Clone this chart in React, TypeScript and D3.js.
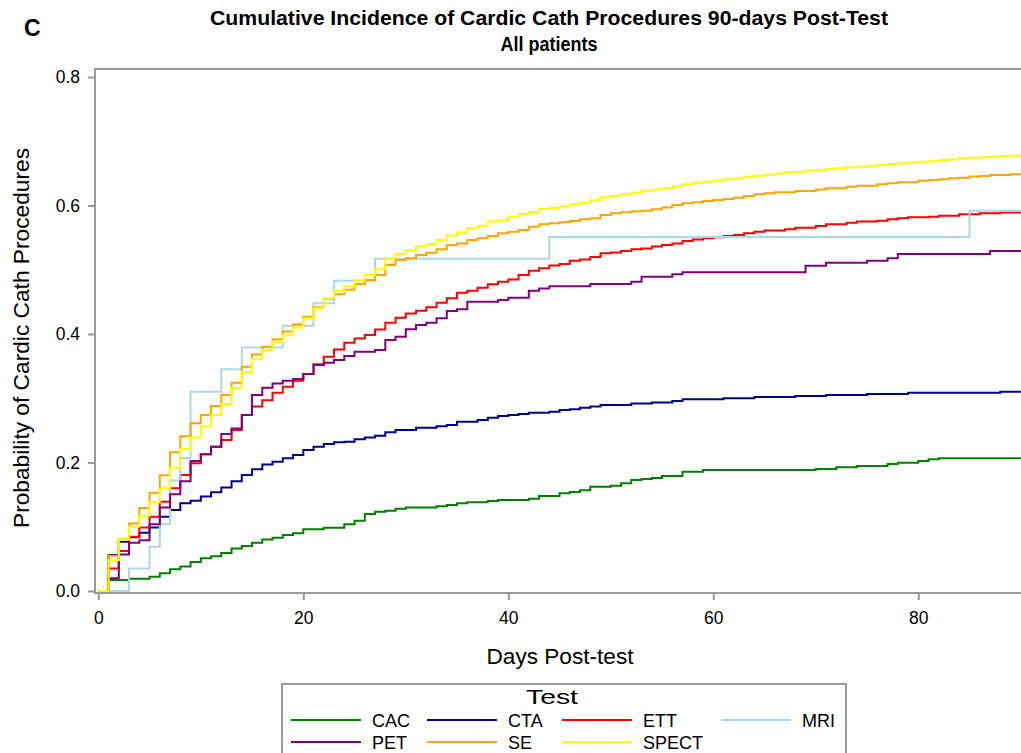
import React, { useEffect, useRef } from 'react';
import * as d3 from 'd3';

// tests in legend order + SAS-ish colours
const tests = ['CAC', 'CTA', 'ETT', 'MRI', 'PET', 'SE', 'SPECT'];
const colors = ['#008000', '#00008b', '#ff0000', '#add8e6', '#800080', '#ffa500', '#ffff00'];

// [day, cumulative incidence] step points
const cacPts = [[0,0],[1,0.017],[3,0.019],[5,0.022],[6,0.0275],[7,0.034],[8,0.038],[9,0.045],[10,0.051],[11,0.054],[12,0.059],[13,0.066],[14,0.070],[15,0.075],[16,0.080],[17,0.083],[18,0.087],[19,0.090],[20,0.096],[22,0.0985],[24,0.104],[25,0.1095],[26,0.120],[27,0.1235],[28,0.125],[29,0.128],[30,0.130],[33,0.132],[34,0.134],[35,0.1365],[36,0.138],[38,0.140],[39,0.1416],[42,0.1435],[43,0.1479],[45,0.152],[46,0.154],[47,0.157],[48,0.1624],[50,0.164],[51,0.1676],[52,0.1728],[53,0.1745],[54,0.176],[55,0.179],[57,0.1857],[59,0.1883],[70,0.190],[72,0.1925],[74,0.1946],[77,0.1977],[78,0.1997],[80,0.2025],[81,0.205],[82,0.2065]];
const ctaPts = [[0,0],[1,0.056],[2,0.0768],[3,0.0835],[4,0.0908],[5,0.099],[6,0.1157],[7,0.126],[8,0.1365],[9,0.1406],[10,0.147],[11,0.1536],[12,0.161],[13,0.171],[14,0.1805],[15,0.1894],[16,0.197],[17,0.2013],[18,0.2065],[19,0.2117],[20,0.2195],[21,0.2246],[22,0.2288],[23,0.2314],[24,0.2324],[25,0.236],[26,0.239],[27,0.2418],[28,0.247],[29,0.2506],[31,0.2542],[33,0.2563],[34,0.2584],[35,0.2636],[37,0.266],[38,0.2698],[39,0.2724],[40,0.274],[41,0.2755],[42,0.2775],[44,0.279],[45,0.2817],[46,0.283],[47,0.2853],[48,0.287],[49,0.2895],[52,0.292],[54,0.2935],[56,0.2957],[57,0.2983],[61,0.2999],[64,0.302],[68,0.3035],[71,0.305],[75,0.3066],[79,0.3087],[88,0.310]];
const ettPts = [[0,0],[1,0.035],[2,0.0623],[3,0.0846],[4,0.099],[5,0.1157],[6,0.139],[7,0.160],[8,0.1805],[9,0.199],[10,0.213],[11,0.2246],[12,0.235],[13,0.2506],[14,0.274],[15,0.287],[16,0.297],[17,0.3087],[18,0.318],[19,0.3274],[20,0.3377],[21,0.353],[22,0.3647],[23,0.376],[24,0.3865],[25,0.393],[26,0.3985],[27,0.407],[28,0.4176],[29,0.4254],[30,0.432],[31,0.4363],[32,0.4415],[33,0.4487],[34,0.4555],[35,0.4643],[36,0.4674],[37,0.472],[38,0.4773],[39,0.4815],[40,0.485],[41,0.4918],[42,0.4986],[43,0.5022],[44,0.5065],[45,0.509],[46,0.514],[47,0.516],[48,0.520],[49,0.5256],[50,0.527],[51,0.529],[52,0.532],[53,0.533],[54,0.536],[55,0.5385],[56,0.541],[57,0.5447],[58,0.547],[59,0.549],[60,0.5505],[61,0.5525],[62,0.554],[63,0.5567],[64,0.5593],[65,0.561],[67,0.563],[68,0.5655],[70,0.568],[71,0.5707],[73,0.5733],[74,0.575],[76,0.5764],[77,0.5785],[78,0.580],[79,0.5816],[81,0.5826],[82,0.584],[84,0.5863],[86,0.5878],[88,0.589]];
const mriPts = [[0,0],[3,0.035],[5,0.069],[6,0.104],[7,0.172],[8,0.207],[9,0.310],[12,0.345],[14,0.379],[18,0.413],[21,0.448],[23,0.483],[27,0.517],[44,0.551],[85,0.592]];
const petPts = [[0,0],[1,0.0197],[2,0.057],[3,0.075],[4,0.079],[5,0.104],[6,0.130],[7,0.1505],[8,0.171],[9,0.2023],[10,0.213],[11,0.2246],[12,0.2443],[13,0.253],[14,0.274],[15,0.305],[16,0.3165],[17,0.323],[18,0.3274],[19,0.330],[20,0.3377],[21,0.3517],[22,0.3554],[23,0.3595],[24,0.3658],[25,0.3725],[27,0.375],[28,0.3907],[29,0.3958],[30,0.4073],[31,0.414],[32,0.4176],[33,0.4244],[34,0.4358],[35,0.4384],[36,0.4503],[39,0.4529],[40,0.4565],[42,0.4674],[43,0.471],[44,0.4745],[48,0.4778],[52,0.4815],[53,0.4892],[56,0.4929],[57,0.496],[69,0.5064],[71,0.511],[75,0.514],[77,0.5178],[78,0.5245],[87,0.529]];
const sePts = [[0,0],[1,0.055],[2,0.081],[3,0.105],[4,0.129],[5,0.153],[6,0.180],[7,0.216],[8,0.241],[9,0.261],[10,0.274],[11,0.288],[12,0.305],[13,0.324],[14,0.349],[15,0.368],[16,0.380],[17,0.392],[18,0.404],[19,0.415],[20,0.427],[21,0.4415],[22,0.455],[23,0.462],[24,0.469],[25,0.478],[26,0.484],[27,0.4918],[28,0.5074],[29,0.5152],[30,0.5178],[31,0.523],[32,0.5266],[33,0.5318],[34,0.5385],[35,0.541],[36,0.5463],[37,0.549],[38,0.5525],[39,0.5567],[40,0.5593],[41,0.562],[42,0.567],[43,0.5707],[44,0.5725],[45,0.5738],[46,0.5759],[47,0.5785],[48,0.580],[49,0.5852],[50,0.5878],[51,0.5894],[52,0.591],[53,0.592],[54,0.594],[55,0.597],[56,0.6008],[57,0.6034],[58,0.605],[59,0.607],[60,0.6086],[61,0.610],[62,0.612],[63,0.6148],[64,0.6174],[65,0.619],[66,0.6205],[68,0.6226],[70,0.625],[71,0.6267],[73,0.6293],[74,0.6309],[76,0.633],[77,0.6345],[78,0.636],[80,0.6386],[81,0.6397],[82,0.6407],[83,0.6423],[84,0.6433],[85,0.645],[86,0.646],[87,0.6475],[89,0.6485]];
const spectPts = [[0,0],[1,0.048],[2,0.080],[3,0.100],[4,0.117],[5,0.138],[6,0.160],[7,0.192],[8,0.221],[9,0.239],[10,0.256],[11,0.274],[12,0.291],[13,0.316],[14,0.341],[15,0.361],[16,0.375],[17,0.388],[18,0.398],[19,0.410],[20,0.424],[21,0.440],[22,0.456],[23,0.467],[24,0.474],[25,0.4835],[26,0.492],[27,0.5006],[28,0.5178],[29,0.5247],[30,0.5305],[31,0.5365],[32,0.540],[33,0.5463],[34,0.5533],[35,0.558],[36,0.5645],[37,0.5685],[38,0.575],[39,0.577],[40,0.5826],[41,0.5868],[42,0.590],[43,0.5946],[44,0.596],[45,0.599],[46,0.602],[47,0.604],[48,0.608],[49,0.6127],[50,0.6153],[51,0.618],[52,0.620],[53,0.623],[54,0.625],[55,0.627],[56,0.630],[57,0.633],[58,0.6355],[59,0.637],[60,0.6386],[61,0.6407],[62,0.642],[63,0.6448],[64,0.6464],[65,0.648],[66,0.650],[67,0.6516],[68,0.6527],[69,0.6542],[70,0.6553],[71,0.6568],[72,0.6578],[73,0.6594],[74,0.6604],[75,0.662],[76,0.663],[77,0.6646],[78,0.6656],[79,0.667],[80,0.668],[81,0.669],[82,0.6708],[83,0.6719],[84,0.6734],[85,0.6744],[86,0.675],[87,0.676],[88,0.677],[89,0.6776]];

const xTicks = [0, 20, 40, 60, 80];
const yTicks = [0, 0.2, 0.4, 0.6, 0.8];

export default function App() {
  const svgRef = useRef<SVGSVGElement>(null);

  useEffect(() => {
    const svg = d3.select(svgRef.current);
    svg.selectAll('*').remove();

    const font = '"Liberation Sans", Arial, sans-serif';
    const axisCol = '#9a9a9a';
    const left = 95, top = 69, bottom = 593, right = 1024;

    const x = d3.scaleLinear().domain([0, 90]).range([98.3, 1020.8]);
    const y = d3.scaleLinear().domain([0, 0.8]).range([591, 77]);

    // titles
    svg.append('text').attr('x', 24).attr('y', 36).attr('font-family', font)
      .attr('font-weight', 'bold').attr('font-size', 23).text('C');
    svg.append('text').attr('x', 549).attr('y', 25).attr('text-anchor', 'middle')
      .attr('font-family', font).attr('font-weight', 'bold').attr('font-size', 19.5)
      .attr('textLength', 678).attr('lengthAdjust', 'spacingAndGlyphs')
      .text('Cumulative Incidence of Cardic Cath Procedures 90-days Post-Test');
    svg.append('text').attr('x', 549).attr('y', 51).attr('text-anchor', 'middle')
      .attr('font-family', font).attr('font-weight', 'bold').attr('font-size', 19.5)
      .attr('textLength', 97).attr('lengthAdjust', 'spacingAndGlyphs')
      .text('All patients');

    // series lines
    svg.append('clipPath').attr('id', 'plotclip').append('rect')
      .attr('x', left).attr('y', top).attr('width', right - left).attr('height', bottom - top);

    const series = [cacPts, ctaPts, ettPts, mriPts, petPts, sePts, spectPts];
    const line = d3.line<number[]>().x(d => x(d[0])).y(d => y(d[1])).curve(d3.curveStepAfter);
    const g = svg.append('g').attr('clip-path', 'url(#plotclip)');
    series.forEach((pts, i) => {
      const full = [...pts, [90, pts[pts.length - 1][1]]];
      g.append('path').attr('d', line(full)).attr('fill', 'none')
        .attr('stroke', colors[i]).attr('stroke-width', 2);
    });

    // frame
    svg.append('rect').attr('x', left).attr('y', top).attr('width', right - left)
      .attr('height', bottom - top).attr('fill', 'none').attr('stroke', axisCol).attr('stroke-width', 2);

    // axes
    const yAx = svg.append('g').attr('transform', `translate(${left},0)`)
      .call(d3.axisLeft(y).tickValues(yTicks).tickSize(7).tickPadding(8).tickFormat(d3.format('.1f')));
    const xAx = svg.append('g').attr('transform', `translate(0,${bottom})`)
      .call(d3.axisBottom(x).tickValues(xTicks).tickSize(7).tickPadding(12).tickFormat(d3.format('d')));
    [yAx, xAx].forEach(a => {
      a.select('.domain').remove();
      a.selectAll('line').attr('stroke', axisCol).attr('stroke-width', 2);
      a.selectAll('text').attr('font-family', font).attr('font-size', 17.5).attr('fill', '#000');
    });

    svg.append('text').attr('x', 560).attr('y', 664).attr('text-anchor', 'middle')
      .attr('font-family', font).attr('font-size', 22).attr('textLength', 147)
      .attr('lengthAdjust', 'spacingAndGlyphs').text('Days Post-test');
    svg.append('text').attr('transform', 'translate(29,338) rotate(-90)').attr('text-anchor', 'middle')
      .attr('font-family', font).attr('font-size', 22).attr('textLength', 380)
      .attr('lengthAdjust', 'spacingAndGlyphs').text('Probability of Cardic Cath Procedures');

    // legend
    svg.append('rect').attr('x', 282).attr('y', 684).attr('width', 564).attr('height', 90)
      .attr('fill', 'none').attr('stroke', axisCol).attr('stroke-width', 2);
    svg.append('text').attr('x', 552).attr('y', 704).attr('text-anchor', 'middle')
      .attr('font-family', font).attr('font-size', 21).attr('textLength', 52)
      .attr('lengthAdjust', 'spacingAndGlyphs').text('Test');
    const colX = [291, 427, 562, 721];
    const rowY = [720, 742];
    tests.forEach((t, i) => {
      const cx = colX[i % 4], cy = rowY[Math.floor(i / 4)];
      svg.append('line').attr('x1', cx).attr('x2', cx + 70).attr('y1', cy).attr('y2', cy)
        .attr('stroke', colors[i]).attr('stroke-width', 2);
      svg.append('text').attr('x', cx + 81).attr('y', cy + 7).attr('font-family', font)
        .attr('font-size', 18).text(t);
    });
  }, []);

  return (
    <svg ref={svgRef} width={1021} height={753}
      style={{ position: 'absolute', left: 0, top: 0, background: '#fff' }} />
  );
}
